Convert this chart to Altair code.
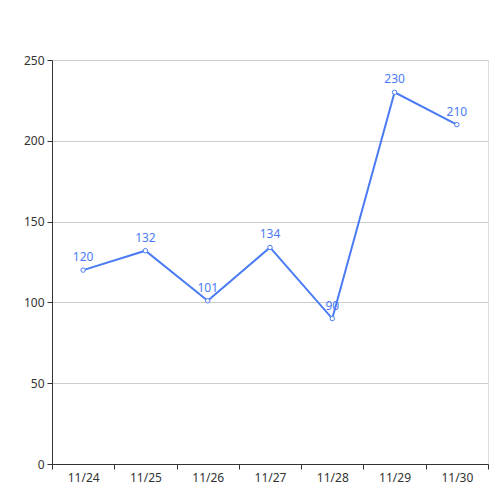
import altair as alt
import pandas as pd

dates = ["11/24", "11/25", "11/26", "11/27", "11/28", "11/29", "11/30"]
values = [120, 132, 101, 134, 90, 230, 210]
y_ticks = [0, 50, 100, 150, 200, 250]

df = pd.DataFrame({
    "pos": [i + 0.5 for i in range(len(dates))],
    "date": dates,
    "value": values,
})

BLUE = "#4a7bf5"
FONT = "Noto Sans"
AXC = "#333333"

tick_vals = [i * 0.5 for i in range(2 * len(dates) + 1)]
label_expr = ""
for i, d in enumerate(dates):
    label_expr += f"abs(datum.value - {i + 0.5}) < 0.01 ? '{d}' : "
label_expr += "''"

x = alt.X(
    "pos:Q",
    scale=alt.Scale(domain=[0, len(dates)], nice=False, zero=False),
    axis=alt.Axis(
        values=tick_vals,
        tickCount=len(tick_vals) + 5,
        labelExpr=label_expr,
        title=None,
        grid=False,
        domainColor=AXC,
        tickColor={"condition": {"test": "abs(datum.value - round(datum.value)) < 0.01", "value": AXC}, "value": "transparent"},
        tickSize=5,
        labelColor=AXC,
        labelFont=FONT,
        labelFontSize=12,
        labelPadding=3,
        labelOverlap=False,
        labelFlush=False,
    ),
)
y = alt.Y(
    "value:Q",
    scale=alt.Scale(domain=[0, 250], nice=False),
    axis=alt.Axis(
        values=y_ticks,
        title=None,
        grid=True,
        gridColor="#cccccc",
        domainColor=AXC,
        tickColor=AXC,
        tickSize=5,
        labelColor=AXC,
        labelFont=FONT,
        labelFontSize=12,
        labelPadding=3,
    ),
)

base = alt.Chart(df)
line = base.mark_line(color=BLUE, strokeWidth=2).encode(x=x, y=y)
pts = base.mark_point(
    shape="circle", size=20, filled=True, fill="white", stroke=BLUE,
    strokeWidth=1, opacity=1
).encode(x="pos:Q", y="value:Q")
labels = base.mark_text(
    color=BLUE, font=FONT, fontSize=12, dy=-9, baseline="alphabetic",
    align="center"
).encode(x="pos:Q", y="value:Q", text="value:Q")

chart = (
    alt.layer(line, labels, pts)
    .properties(
        width=436,
        height=404,
        autosize=alt.AutoSizeParams(type="none"),
        padding={"left": 44, "top": 52, "right": 4, "bottom": 28},
    )
    .configure_view(stroke=None)
    .configure(background="white")
)

chart.save("out.html", embed_options={"renderer": "svg", "actions": False})
